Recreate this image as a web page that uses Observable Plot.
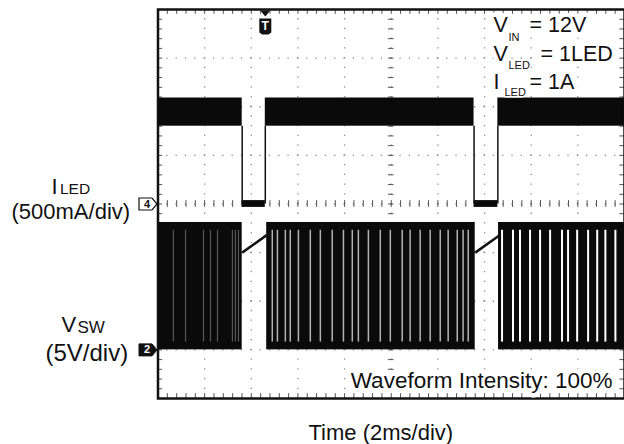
<!DOCTYPE html>
<html><head><meta charset="utf-8">
<script src="https://cdn.jsdelivr.net/npm/d3@7"></script>
<script src="https://cdn.jsdelivr.net/npm/@observablehq/plot@0.6"></script>
<style>
html,body{margin:0;padding:0;background:#fff;}
#chart{width:624px;height:444px;overflow:hidden;}
svg{display:block;}
</style></head><body><div id="chart"></div>
<script>
// ---- data (time in ms, 2 ms/div, 10 div) ----
const timeDomain = [0, 20];
const divDomain = [-4, 4];
const iledScale = 0.5;   // A per div (channel 4)
const vswScale = 5;      // V per div (channel 2)
const iledRef = 0;       // channel 4 ground, div
const vswRef = -3;       // channel 2 ground, div
const triggerTime = 4.60;

// ILED
const iledOnStart = [0, 4.60, 14.57];
const iledOnEnd = [3.61, 13.55, 20];
const iledRippleLow = 0.80;   // A
const iledRippleHigh = 1.09;  // A
const iledOffStart = [3.61, 13.55];
const iledOffEnd = [4.60, 14.57];
const iledOffLevel = 0;       // A

// VSW
const vswOnStart = [0, 4.66, 14.60];
const vswOnEnd = [3.61, 13.60, 20];
const vswHigh = 13.1;         // V
const vswOffStart = [3.61, 13.60];
const vswOffEnd = [4.66, 14.60];
const vswOffV1 = [10.0, 10.0];
const vswOffV2 = [11.8, 11.7];
// visible gaps between switching pulses (ms)
const vswGapsSeg1 = [0.66, 1.18, 1.95, 2.25, 2.55, 3.19, 3.32, 3.45];
const vswGapsSeg2 = [4.90, 5.12, 5.46, 5.67, 6.02, 6.53, 6.96, 7.47, 7.95, 8.33, 8.59, 9.02, 9.53, 9.96, 10.47, 10.81, 11.24, 11.67, 12.10, 12.44, 12.83, 13.08, 13.30];
const vswGapsSeg3 = [14.75, 15.22, 15.52, 15.95, 16.38, 16.81, 17.32, 17.58, 17.97, 18.44, 18.83, 19.18, 19.61];

// ---- helpers ----
const toDivI = a => iledRef + a / iledScale;
const toDivV = v => vswRef + v / vswScale;
const W = 624, H = 444, ML = 157.5, MT = 9, MR = 0, MB = 46;
const FONT = "'Liberation Sans', Arial, Helvetica, sans-serif";

const iledOn = iledOnStart.map((s, i) => ({x1: s, x2: iledOnEnd[i]}));
const iledOff = iledOffStart.map((s, i) => ({x1: s, x2: iledOffEnd[i]}));
const vswOn = vswOnStart.map((s, i) => ({x1: s, x2: vswOnEnd[i]}));
const vswOff = vswOffStart.map((s, i) => ({x1: s, x2: vswOffEnd[i], v1: vswOffV1[i], v2: vswOffV2[i]}));

const majorX = d3.range(timeDomain[0], timeDomain[1] + 1e-9, 2);
const minorX = d3.range(timeDomain[0], timeDomain[1] + 1e-9, 0.4);
const majorY = d3.range(divDomain[0], divDomain[1] + 1e-9, 1);
const minorY = d3.range(divDomain[0], divDomain[1] + 1e-9, 0.2);

function label(str, x, y, size, opts = {}) {
  return Plot.text([str], {
    text: d => d, frameAnchor: "top-left", dx: x - ML, dy: y - MT,
    textAnchor: "start", lineAnchor: "bottom", fontSize: size,
    fontFamily: FONT, fill: "#111", ...opts
  });
}
const halo = {stroke: "white", strokeWidth: 9, paintOrder: "stroke"};
const haloSmall = {stroke: "white", strokeWidth: 3, paintOrder: "stroke"};

const tagSymbol = {draw(ctx) {
  ctx.moveTo(-9, -6); ctx.lineTo(4, -6); ctx.lineTo(9, 0); ctx.lineTo(4, 6); ctx.lineTo(-9, 6); ctx.closePath();
}};
const downTri = {draw(ctx) {
  ctx.moveTo(-5, -3); ctx.lineTo(5, -3); ctx.lineTo(0, 3); ctx.closePath();
}};
const trigBox = {draw(ctx) {
  ctx.moveTo(-6, -8); ctx.lineTo(6, -8); ctx.lineTo(6, 6); ctx.lineTo(3, 8); ctx.lineTo(-3, 8); ctx.lineTo(-6, 6); ctx.closePath();
}};

const chart = Plot.plot({
  width: W, height: H,
  marginLeft: ML, marginRight: MR, marginTop: MT, marginBottom: MB,
  x: {domain: timeDomain, axis: null},
  y: {domain: divDomain, axis: null},
  style: {background: "white", fontFamily: FONT, overflow: "visible"},
  marks: [
    // dotted graticule
    Plot.ruleX(majorX.slice(1, -1), {stroke: "#8c8c8c", strokeWidth: 1.3, strokeDasharray: "1.3,8.425", strokeDashoffset: 0.65}),
    Plot.ruleY(majorY.slice(1, -1), {stroke: "#8c8c8c", strokeWidth: 1.3, strokeDasharray: "1.3,8.03", strokeDashoffset: 0.65}),
    // centre crosshair ticks
    Plot.ruleX(minorX, {x: d => d, y1: -0.07, y2: 0.07, stroke: "#555", strokeWidth: 1}),
    Plot.ruleY(minorY, {y: d => d, x1: 9.88, x2: 10.12, stroke: "#555", strokeWidth: 1}),
    // border ticks
    Plot.ruleX(minorX, {x: d => d, y1: 4, y2: 3.9, stroke: "#555", strokeWidth: 1}),
    Plot.ruleX(minorX, {x: d => d, y1: -4, y2: -3.9, stroke: "#555", strokeWidth: 1}),
    Plot.ruleY(minorY, {y: d => d, x1: 0, x2: 0.2, stroke: "#555", strokeWidth: 1}),
    Plot.ruleY(minorY, {y: d => d, x1: 19.8, x2: 20, stroke: "#555", strokeWidth: 1}),

    // VSW switching envelope
    Plot.rect(vswOn, {x1: "x1", x2: "x2", y1: toDivV(0), y2: toDivV(vswHigh), fill: "#0a0a0a"}),
    Plot.ruleX(vswGapsSeg1, {x: d => d, y1: toDivV(0.8), y2: toDivV(12.3), stroke: "#888", strokeWidth: 1.2, strokeOpacity: 0.6}),
    Plot.ruleX(vswGapsSeg2, {x: d => d, y1: toDivV(0.8), y2: toDivV(12.3), stroke: "#ddd", strokeWidth: 1.5, strokeOpacity: 0.8}),
    Plot.ruleX(vswGapsSeg3, {x: d => d, y1: toDivV(0.8), y2: toDivV(12.3), stroke: "white", strokeWidth: 2}),
    Plot.link(vswOff, {x1: "x1", x2: "x2", y1: d => toDivV(d.v1), y2: d => toDivV(d.v2), stroke: "#111", strokeWidth: 2.5}),

    // ILED
    Plot.rect(iledOn, {x1: "x1", x2: "x2", y1: toDivI(iledRippleLow), y2: toDivI(iledRippleHigh), fill: "#0a0a0a"}),
    Plot.rect(iledOff, {x1: "x1", x2: "x2", y1: toDivI(iledOffLevel - 0.035), y2: toDivI(iledOffLevel + 0.035), fill: "#0a0a0a"}),
    Plot.ruleX(iledOffStart, {x: d => d, y1: toDivI(iledOffLevel), y2: toDivI(iledRippleLow), stroke: "#111", strokeWidth: 1.5}),
    Plot.ruleX(iledOffEnd, {x: d => d, y1: toDivI(iledOffLevel), y2: toDivI(iledRippleLow), stroke: "#111", strokeWidth: 1.5}),

    Plot.frame({stroke: "#111", strokeWidth: 2.5}),

    // trigger marker
    Plot.dot([triggerTime], {x: d => d, y: divDomain[1], dy: 4, symbol: downTri, r: 5, fill: "#111", stroke: "none"}),
    Plot.dot([triggerTime], {x: d => d, y: divDomain[1], dy: 17, symbol: trigBox, r: 5, fill: "#111", stroke: "none"}),
    Plot.text(["T"], {x: triggerTime, y: divDomain[1], dy: 17, text: d => d, fill: "white", fontWeight: "bold", fontSize: 12, fontFamily: FONT}),

    // channel ground markers
    Plot.dot([iledRef], {x: timeDomain[0], y: d => d, dx: -10, symbol: tagSymbol, r: 5, fill: "white", stroke: "#111", strokeWidth: 1.2}),
    Plot.text(["4"], {x: timeDomain[0], y: iledRef, dx: -11, text: d => d, fill: "#111", fontSize: 11, fontWeight: "bold", fontFamily: FONT}),
    Plot.dot([vswRef], {x: timeDomain[0], y: d => d, dx: -10, symbol: tagSymbol, r: 5, fill: "#111", stroke: "#111", strokeWidth: 1}),
    Plot.text(["2"], {x: timeDomain[0], y: vswRef, dx: -11, text: d => d, fill: "white", fontSize: 11, fontWeight: "bold", fontFamily: FONT}),

    // conditions (top right)
    label("V", 493, 31.7, 21.5, halo),
    label("IN", 508, 40, 11, haloSmall),
    label("= 12V", 529, 31.7, 21.5, halo),
    label("V", 493, 60, 21.5, halo),
    label("LED", 508, 68, 11, haloSmall),
    label("= 1LED", 540, 60, 21.5, halo),
    label("I", 493, 88, 21.5, halo),
    label("LED", 504, 95.5, 11, haloSmall),
    label("= 1A", 529, 88, 21.5, halo),

    // channel labels (left)
    label("I", 51, 193, 22),
    label("LED", 59.5, 193.5, 15.5),
    label("(500mA/div)", 11, 218, 22),
    label("V", 61, 331.7, 22),
    label("SW", 77, 332, 17),
    label("(5V/div)", 45, 360, 24),

    // bottom texts
    label("Waveform Intensity: 100%", 612, 387, 22.5, {...halo, textAnchor: "end"}),
    label("Time (2ms/div)", 308, 439, 22)
  ]
});
document.getElementById("chart").appendChild(chart);
</script></body></html>
